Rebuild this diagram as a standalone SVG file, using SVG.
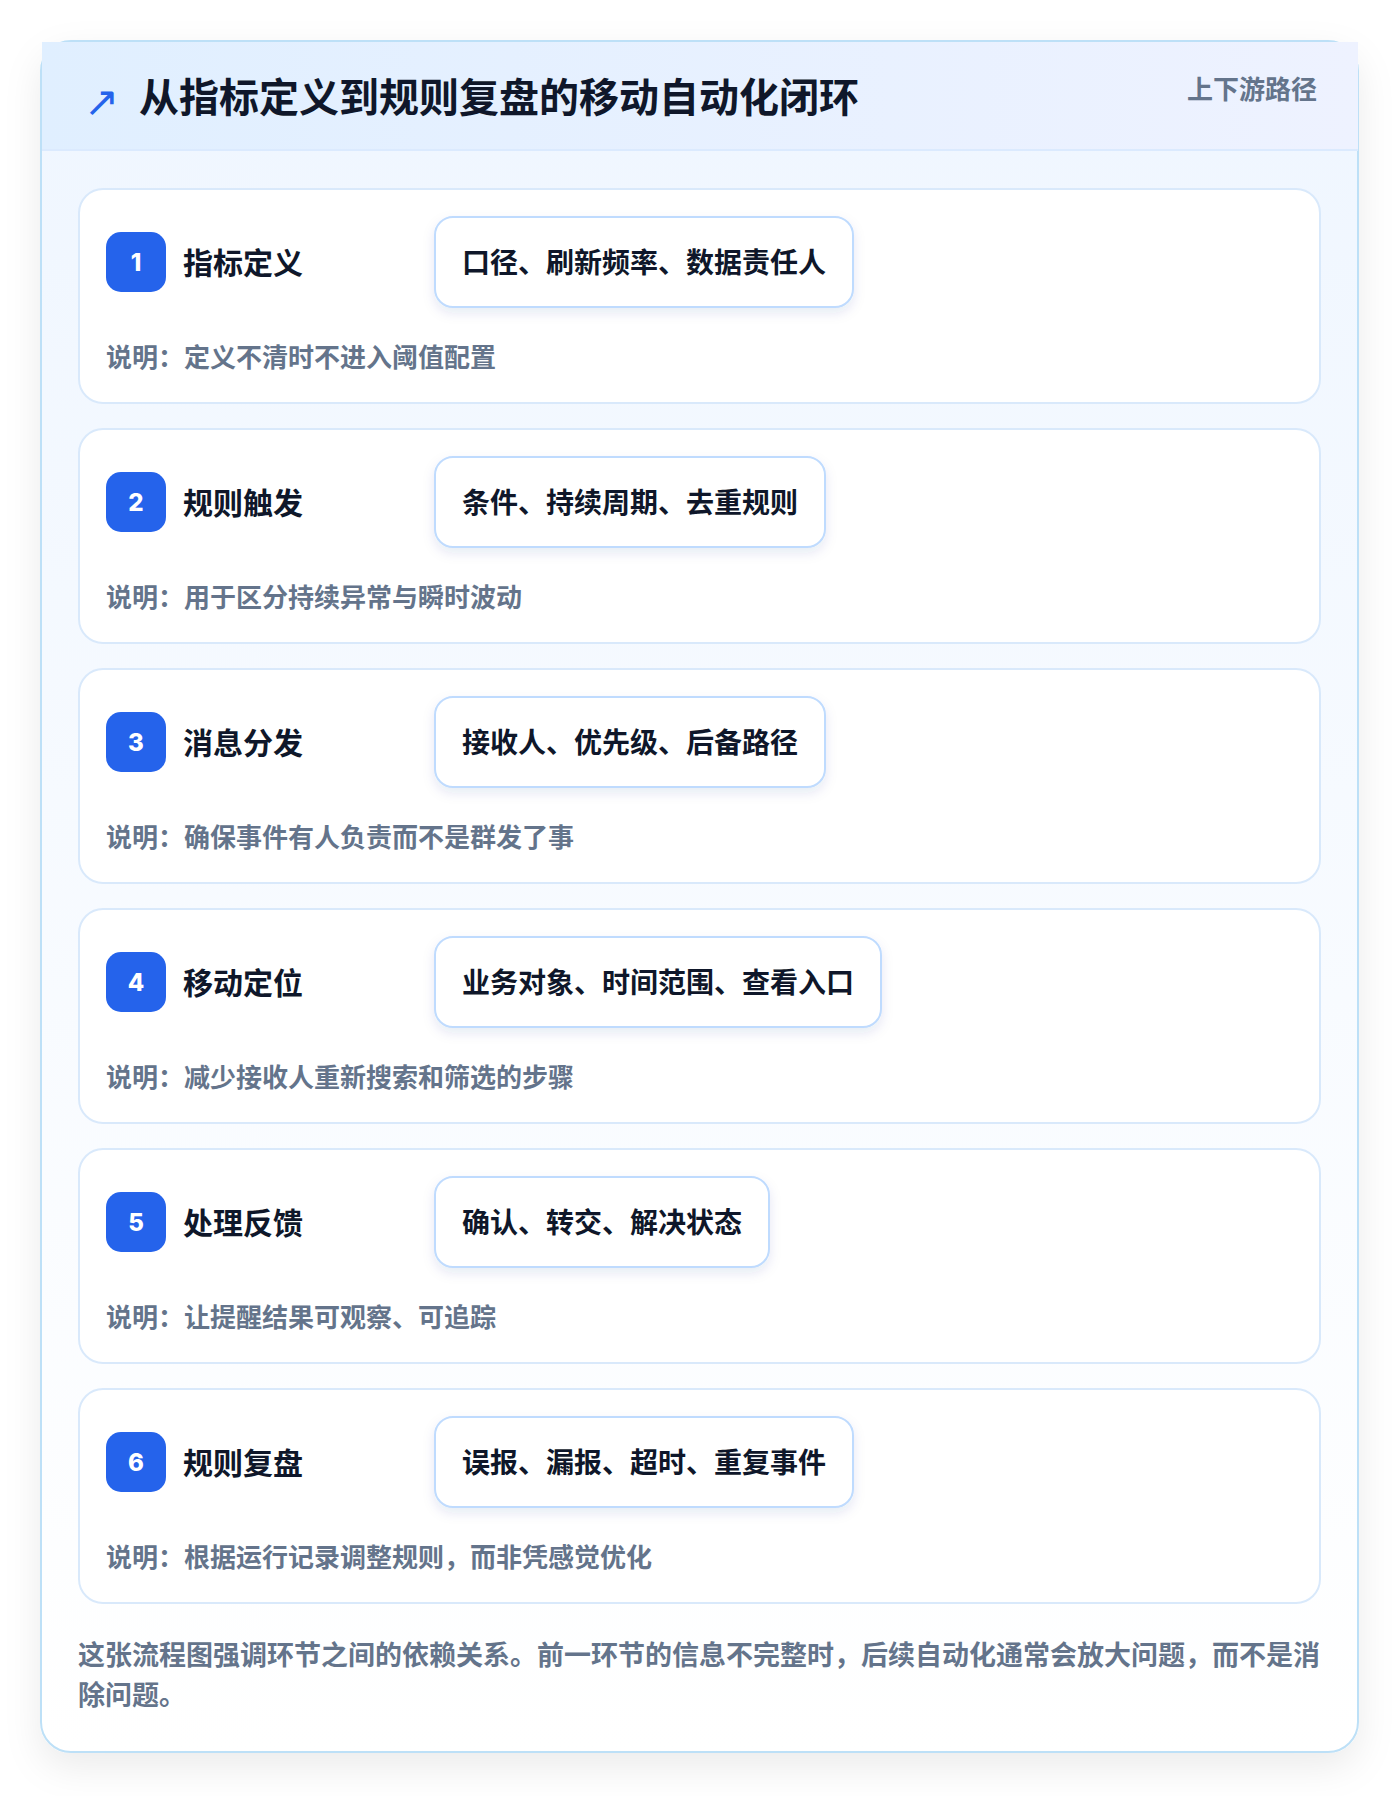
<svg xmlns="http://www.w3.org/2000/svg" width="1400" height="1796" viewBox="0 0 1400 1796">
  <defs>
    <linearGradient id="bodyGrad" x1="0" y1="0" x2="0" y2="1">
      <stop offset="0" stop-color="#eff6ff"/>
      <stop offset="1" stop-color="#ffffff"/>
    </linearGradient>
    <linearGradient id="headGrad" x1="0" y1="0" x2="1" y2="0">
      <stop offset="0" stop-color="#e0efff"/>
      <stop offset="1" stop-color="#eef2ff"/>
    </linearGradient>
    <filter id="cardShadow" x="-10%" y="-10%" width="120%" height="125%">
      <feDropShadow dx="0" dy="14" stdDeviation="18" flood-color="#0f172a" flood-opacity="0.08"/>
    </filter>
    <filter id="pillShadow" x="-10%" y="-20%" width="120%" height="160%">
      <feDropShadow dx="0" dy="5" stdDeviation="6" flood-color="#1e3a8a" flood-opacity="0.10"/>
    </filter>
    <style>
      text { font-family: "Noto Sans CJK SC", "Noto Sans", sans-serif; font-weight: 700; }
      .item { fill: #ffffff; stroke: #d9e9fb; stroke-width: 2; }
      .badge { fill: #2563eb; }
      .num { fill: #ffffff; font-family: Inter, "Noto Sans", sans-serif; font-size: 24px; font-weight: 800; text-anchor: middle; }
      .ttl { fill: #0f172a; font-size: 30px; }
      .pill { fill: #ffffff; stroke: #bfdbfe; stroke-width: 2; }
      .ptx { fill: #0f172a; font-size: 28px; }
      .desc { fill: #64748b; font-size: 26px; }
      .foot { fill: #64748b; font-size: 27px; }
    </style>
  </defs>
  <rect x="0" y="0" width="1400" height="1796" fill="#ffffff"/>
  <g id="frame">
    <rect x="41" y="41" width="1317" height="1711" rx="30" fill="url(#bodyGrad)" stroke="#bde0f7" stroke-width="2" filter="url(#cardShadow)"/>
    <rect x="42" y="42" width="1316" height="108" fill="url(#headGrad)"/>
    <line x1="42" y1="150" x2="1358" y2="150" stroke="#dbeafe" stroke-width="2"/>
  </g>
  <g id="header">
    <text x="84" y="116" fill="#2563eb" font-size="42" style="font-family: 'DejaVu Sans', sans-serif; font-weight:400">↗</text>
    <text x="139" y="112" fill="#0f172a" font-size="40">从指标定义到规则复盘的移动自动化闭环</text>
    <text x="1317" y="99" fill="#64748b" font-size="26" text-anchor="end">上下游路径</text>
  </g>
  <g id="connectors"></g>
  <g id="step1" transform="translate(0,189)">
    <rect class="item" x="79" y="0" width="1241" height="214" rx="24"/>
    <rect class="badge" x="106" y="43" width="60" height="60" rx="15"/>
    <text class="num" x="136" y="82">1</text>
    <text class="ttl" x="183" y="85">指标定义</text>
    <rect class="pill" x="435" y="28" width="418" height="90" rx="18" filter="url(#pillShadow)"/>
    <text class="ptx" x="462" y="84">口径、刷新频率、数据责任人</text>
    <text class="desc" x="106" y="178">说明：定义不清时不进入阈值配置</text>
  </g>
  <g id="step2" transform="translate(0,429)">
    <rect class="item" x="79" y="0" width="1241" height="214" rx="24"/>
    <rect class="badge" x="106" y="43" width="60" height="60" rx="15"/>
    <text class="num" x="136" y="82">2</text>
    <text class="ttl" x="183" y="85">规则触发</text>
    <rect class="pill" x="435" y="28" width="390" height="90" rx="18" filter="url(#pillShadow)"/>
    <text class="ptx" x="462" y="84">条件、持续周期、去重规则</text>
    <text class="desc" x="106" y="178">说明：用于区分持续异常与瞬时波动</text>
  </g>
  <g id="step3" transform="translate(0,669)">
    <rect class="item" x="79" y="0" width="1241" height="214" rx="24"/>
    <rect class="badge" x="106" y="43" width="60" height="60" rx="15"/>
    <text class="num" x="136" y="82">3</text>
    <text class="ttl" x="183" y="85">消息分发</text>
    <rect class="pill" x="435" y="28" width="390" height="90" rx="18" filter="url(#pillShadow)"/>
    <text class="ptx" x="462" y="84">接收人、优先级、后备路径</text>
    <text class="desc" x="106" y="178">说明：确保事件有人负责而不是群发了事</text>
  </g>
  <g id="step4" transform="translate(0,909)">
    <rect class="item" x="79" y="0" width="1241" height="214" rx="24"/>
    <rect class="badge" x="106" y="43" width="60" height="60" rx="15"/>
    <text class="num" x="136" y="82">4</text>
    <text class="ttl" x="183" y="85">移动定位</text>
    <rect class="pill" x="435" y="28" width="446" height="90" rx="18" filter="url(#pillShadow)"/>
    <text class="ptx" x="462" y="84">业务对象、时间范围、查看入口</text>
    <text class="desc" x="106" y="178">说明：减少接收人重新搜索和筛选的步骤</text>
  </g>
  <g id="step5" transform="translate(0,1149)">
    <rect class="item" x="79" y="0" width="1241" height="214" rx="24"/>
    <rect class="badge" x="106" y="43" width="60" height="60" rx="15"/>
    <text class="num" x="136" y="82">5</text>
    <text class="ttl" x="183" y="85">处理反馈</text>
    <rect class="pill" x="435" y="28" width="334" height="90" rx="18" filter="url(#pillShadow)"/>
    <text class="ptx" x="462" y="84">确认、转交、解决状态</text>
    <text class="desc" x="106" y="178">说明：让提醒结果可观察、可追踪</text>
  </g>
  <g id="step6" transform="translate(0,1389)">
    <rect class="item" x="79" y="0" width="1241" height="214" rx="24"/>
    <rect class="badge" x="106" y="43" width="60" height="60" rx="15"/>
    <text class="num" x="136" y="82">6</text>
    <text class="ttl" x="183" y="85">规则复盘</text>
    <rect class="pill" x="435" y="28" width="418" height="90" rx="18" filter="url(#pillShadow)"/>
    <text class="ptx" x="462" y="84">误报、漏报、超时、重复事件</text>
    <text class="desc" x="106" y="178">说明：根据运行记录调整规则，而非凭感觉优化</text>
  </g>
  <g id="footnote">
    <text class="foot" x="78" y="1665">这张流程图强调环节之间的依赖关系。前一环节的信息不完整时，后续自动化通常会放大问题，而不是消</text>
    <text class="foot" x="78" y="1705">除问题。</text>
  </g>
</svg>
